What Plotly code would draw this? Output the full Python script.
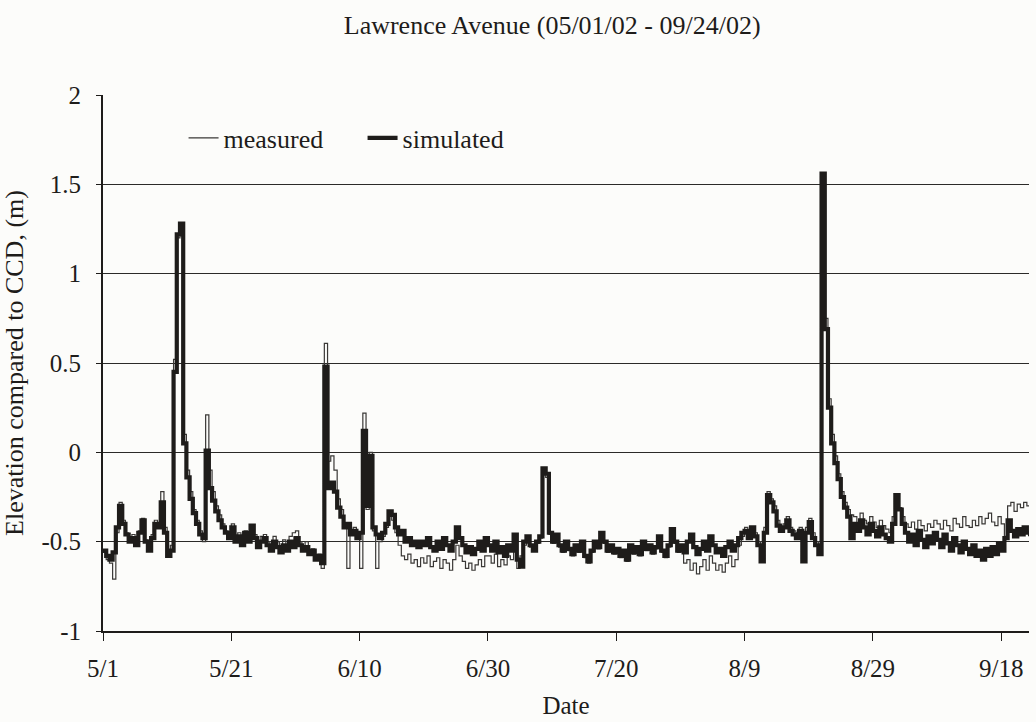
import pandas as pd
import plotly.graph_objects as go

# Water surface elevation relative to CCD (m), one value every 12 hours from 5/1/2002
measured = [
    -0.56, -0.60, -0.62, -0.71, -0.45, -0.28, -0.38, -0.45, -0.49, -0.46,   # 5/1 - 5/5
    -0.50, -0.44, -0.37, -0.49, -0.53, -0.46, -0.38, -0.40, -0.22, -0.42,   # 5/6 - 5/10
    -0.57, -0.52, 0.52, 1.20, 1.25, 0.10, -0.10, -0.22, -0.32, -0.38,       # 5/11 - 5/15
    -0.44, -0.50, 0.21, -0.10, -0.22, -0.30, -0.35, -0.40, -0.44, -0.46,    # 5/16 - 5/20
    -0.40, -0.49, -0.45, -0.50, -0.44, -0.48, -0.42, -0.46, -0.52, -0.47,   # 5/21 - 5/25
    -0.46, -0.50, -0.54, -0.47, -0.50, -0.54, -0.49, -0.52, -0.47, -0.45,   # 5/26 - 5/30
    -0.44, -0.50, -0.53, -0.50, -0.56, -0.54, -0.60, -0.57, -0.65, 0.61,    # 5/31 - 6/4
    -0.05, -0.02, -0.10, -0.26, -0.32, -0.40, -0.65, -0.44, -0.42, -0.47,   # 6/5 - 6/9
    -0.65, 0.22, -0.32, 0.00, -0.44, -0.65, -0.50, -0.47, -0.42, -0.35,     # 6/10 - 6/14
    -0.38, -0.45, -0.52, -0.58, -0.60, -0.57, -0.62, -0.60, -0.64, -0.59,   # 6/15 - 6/19
    -0.62, -0.58, -0.64, -0.61, -0.59, -0.65, -0.60, -0.62, -0.66, -0.60,   # 6/20 - 6/24
    -0.52, -0.58, -0.61, -0.65, -0.62, -0.66, -0.63, -0.60, -0.64, -0.58,   # 6/25 - 6/29
    -0.58, -0.62, -0.57, -0.64, -0.60, -0.63, -0.58, -0.60, -0.52, -0.65,   # 6/30 - 7/4
    -0.58, -0.52, -0.49, -0.53, -0.55, -0.51, -0.48, -0.10, -0.14, -0.46,   # 7/5 - 7/9
    -0.51, -0.47, -0.53, -0.56, -0.51, -0.55, -0.58, -0.53, -0.56, -0.51,   # 7/10 - 7/14
    -0.59, -0.62, -0.56, -0.51, -0.54, -0.45, -0.51, -0.56, -0.53, -0.57,   # 7/15 - 7/19
    -0.55, -0.59, -0.56, -0.61, -0.53, -0.57, -0.54, -0.58, -0.51, -0.55,   # 7/20 - 7/24
    -0.53, -0.57, -0.54, -0.48, -0.56, -0.59, -0.53, -0.44, -0.51, -0.56,   # 7/25 - 7/29
    -0.55, -0.62, -0.60, -0.66, -0.62, -0.68, -0.64, -0.60, -0.66, -0.58,   # 7/30 - 8/3
    -0.62, -0.66, -0.63, -0.67, -0.62, -0.58, -0.64, -0.60, -0.52, -0.47,   # 8/4 - 8/8
    -0.42, -0.46, -0.43, -0.45, -0.50, -0.58, -0.42, -0.22, -0.26, -0.30,   # 8/9 - 8/13
    -0.38, -0.42, -0.40, -0.36, -0.42, -0.44, -0.45, -0.42, -0.55, -0.42,   # 8/14 - 8/18
    -0.37, -0.45, -0.50, -0.55, 1.50, 0.75, 0.30, 0.10, -0.02, -0.12,       # 8/19 - 8/23
    -0.22, -0.28, -0.32, -0.35, -0.36, -0.40, -0.34, -0.38, -0.40, -0.36,   # 8/24 - 8/28
    -0.39, -0.42, -0.38, -0.41, -0.43, -0.45, -0.36, -0.28, -0.31, -0.36,   # 8/29 - 9/2
    -0.40, -0.42, -0.39, -0.43, -0.38, -0.41, -0.44, -0.40, -0.42, -0.38,   # 9/3 - 9/7
    -0.40, -0.43, -0.38, -0.41, -0.44, -0.37, -0.40, -0.42, -0.36, -0.41,   # 9/8 - 9/12
    -0.42, -0.38, -0.41, -0.36, -0.40, -0.37, -0.34, -0.39, -0.41, -0.36,   # 9/13 - 9/17
    -0.40, -0.47, -0.30, -0.28, -0.33, -0.29, -0.31, -0.28, -0.30, -0.29,   # 9/18 - 9/22
]

simulated = [
    -0.55, -0.58, -0.60, -0.56, -0.42, -0.30, -0.40, -0.46, -0.50, -0.48,
    -0.52, -0.45, -0.38, -0.50, -0.55, -0.48, -0.40, -0.42, -0.28, -0.45,
    -0.58, -0.55, 0.45, 1.22, 1.28, 0.05, -0.14, -0.26, -0.34, -0.40,
    -0.46, -0.48, 0.01, -0.20, -0.27, -0.33, -0.38, -0.42, -0.45, -0.48,
    -0.42, -0.50, -0.47, -0.52, -0.45, -0.50, -0.41, -0.48, -0.53, -0.50,
    -0.48, -0.52, -0.55, -0.50, -0.53, -0.56, -0.52, -0.55, -0.50, -0.53,
    -0.48, -0.52, -0.55, -0.53, -0.57, -0.55, -0.60, -0.58, -0.62, 0.48,
    -0.20, -0.17, -0.22, -0.31, -0.36, -0.42, -0.40, -0.46, -0.44, -0.48,
    -0.45, 0.12, -0.30, -0.02, -0.42, -0.46, -0.48, -0.45, -0.40, -0.33,
    -0.35, -0.42, -0.46, -0.44, -0.50, -0.48, -0.52, -0.50, -0.53, -0.50,
    -0.52, -0.48, -0.53, -0.55, -0.50, -0.54, -0.48, -0.52, -0.55, -0.50,
    -0.42, -0.48, -0.52, -0.56, -0.53, -0.57, -0.54, -0.50, -0.55, -0.48,
    -0.52, -0.55, -0.50, -0.56, -0.53, -0.58, -0.52, -0.55, -0.46, -0.60,
    -0.64, -0.50, -0.47, -0.52, -0.55, -0.50, -0.47, -0.09, -0.12, -0.45,
    -0.50, -0.46, -0.52, -0.55, -0.50, -0.54, -0.57, -0.52, -0.55, -0.50,
    -0.58, -0.61, -0.55, -0.50, -0.53, -0.45, -0.50, -0.55, -0.52, -0.56,
    -0.54, -0.58, -0.55, -0.60, -0.52, -0.56, -0.53, -0.57, -0.50, -0.54,
    -0.52, -0.56, -0.53, -0.47, -0.55, -0.58, -0.52, -0.43, -0.50, -0.55,
    -0.52, -0.56, -0.50, -0.46, -0.53, -0.57, -0.54, -0.50, -0.55, -0.47,
    -0.52, -0.56, -0.54, -0.58, -0.53, -0.50, -0.55, -0.52, -0.48, -0.45,
    -0.44, -0.48, -0.42, -0.47, -0.52, -0.61, -0.45, -0.24, -0.28, -0.33,
    -0.41, -0.44, -0.42, -0.38, -0.44, -0.46, -0.48, -0.44, -0.61, -0.45,
    -0.39, -0.48, -0.52, -0.57, 1.56, 0.69, 0.25, 0.05, -0.06, -0.15,
    -0.25, -0.31, -0.36, -0.48, -0.40, -0.44, -0.38, -0.42, -0.46, -0.40,
    -0.44, -0.47, -0.42, -0.46, -0.48, -0.50, -0.40, -0.24, -0.32, -0.40,
    -0.45, -0.50, -0.46, -0.52, -0.44, -0.49, -0.53, -0.47, -0.51, -0.45,
    -0.49, -0.53, -0.46, -0.51, -0.55, -0.48, -0.52, -0.56, -0.50, -0.54,
    -0.57, -0.52, -0.58, -0.55, -0.60, -0.54, -0.58, -0.53, -0.57, -0.51,
    -0.55, -0.48, -0.38, -0.44, -0.47, -0.43, -0.46, -0.42, -0.45, -0.47,
]

start_date = "2002-05-01"
x_tick_dates = ["2002-05-01", "2002-05-21", "2002-06-10", "2002-06-30",
                "2002-07-20", "2002-08-09", "2002-08-29", "2002-09-18"]
x_tick_labels = ["5/1", "5/21", "6/10", "6/30", "7/20", "8/9", "8/29", "9/18"]
y_ticks = [-1, -0.5, 0, 0.5, 1, 1.5, 2]
y_tick_labels = ["-1", "-0.5", "0", "0.5", "1", "1.5", "2"]

times = pd.date_range(start_date, periods=len(simulated), freq="12h")

FONT = "Liberation Serif"
INK = "#1e1c1a"

fig = go.Figure()
fig.add_trace(go.Scatter(
    x=times, y=measured, name="measured", mode="lines",
    line=dict(color="#3a3836", width=1.2, shape="hv"),
))
fig.add_trace(go.Scatter(
    x=times, y=simulated, name="simulated", mode="lines",
    line=dict(color=INK, width=4.2, shape="hv"),
))

fig.update_layout(
    width=1036, height=722,
    margin=dict(l=103, r=7, t=95, b=88),
    paper_bgcolor="#fcfcfa",
    plot_bgcolor="#fcfcfa",
    font=dict(family=FONT, color=INK, size=25),
    title=dict(text="Lawrence Avenue (05/01/02 - 09/24/02)",
               x=0.533, xanchor="center", y=0.965, yanchor="middle",
               font=dict(family=FONT, size=26, color=INK)),
    showlegend=True,
    legend=dict(orientation="h", x=0.087, y=0.92, xanchor="left", yanchor="middle",
                bgcolor="rgba(0,0,0,0)", font=dict(family=FONT, size=26, color=INK),
                itemwidth=30, entrywidth=134, entrywidthmode="pixels"),
    xaxis=dict(
        type="date",
        range=["2002-05-01", "2002-09-22 08:00"],
        tickvals=x_tick_dates, ticktext=x_tick_labels,
        ticks="outside", ticklen=8, tickwidth=1.2, tickcolor=INK,
        ticklabelstandoff=6,
        showgrid=False, zeroline=False,
        showline=True, linecolor=INK, linewidth=2.2,
        tickfont=dict(family=FONT, size=25, color=INK),
        title=dict(text="Date", font=dict(family=FONT, size=25, color=INK), standoff=15),
    ),
    yaxis=dict(
        range=[-1, 2],
        tickvals=y_ticks, ticktext=y_tick_labels,
        ticks="outside", ticklen=5, tickwidth=1.2, tickcolor=INK,
        ticklabelstandoff=10,
        showgrid=True, gridcolor="#2b2a28", gridwidth=1.2,
        zeroline=False,
        showline=True, linecolor=INK, linewidth=1.8,
        tickfont=dict(family=FONT, size=25, color=INK),
        title=dict(text="Elevation compared to CCD, (m)",
                   font=dict(family=FONT, size=26, color=INK), standoff=10),
    ),
)

fig.write_html("out.html")
